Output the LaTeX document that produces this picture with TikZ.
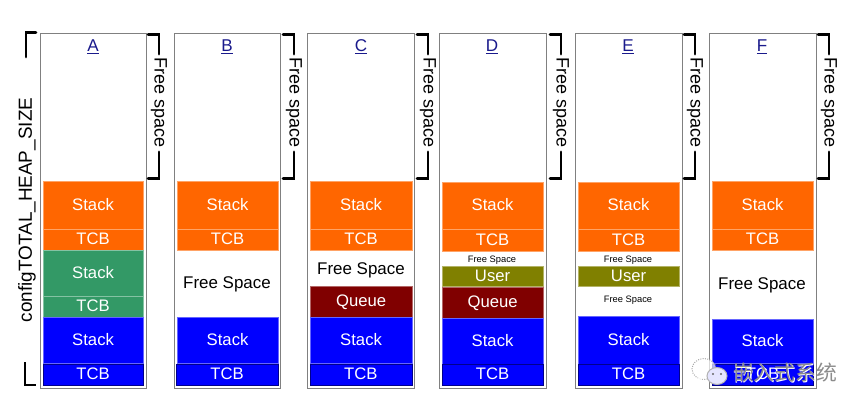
\documentclass[tikz,border=0pt]{standalone}
\usepackage{fontspec}
\setmainfont{Liberation Sans}
\newfontfamily\cjkfont{Noto Sans CJK SC}
\definecolor{taskorange}{HTML}{FF6600}
\definecolor{taskgreen}{HTML}{339966}
\definecolor{taskblue}{HTML}{0000FF}
\definecolor{queuered}{HTML}{800000}
\definecolor{userolive}{HTML}{808000}
\definecolor{linknavy}{HTML}{1A1A8C}
\tikzset{every picture/.style={line width=0.75pt}}
\tikzset{
  heapframe/.style={draw=black!50, line width=1.1pt, fill=white, anchor=north west, inner sep=0pt},
  heapblock/.style={anchor=north west, inner sep=0pt, text=white, text height=9pt, text depth=1.5pt, font=\fontsize{12.5}{14}\selectfont, line width=0.5pt},
  bracket/.style={line width=2.1pt, line cap=round},
  thinbracket/.style={line width=1.2pt},
  freebig/.style={font=\fontsize{12.7}{14}\selectfont, inner sep=0pt},
  freesmall/.style={font=\fontsize{7}{8}\selectfont, inner sep=0pt},
  heaptitle/.style={text=linknavy, font=\fontsize{12.8}{14}\selectfont, inner sep=0pt}
}

\begin{document}
\begin{tikzpicture}[x=0.75pt, y=-0.75pt]
  \useasboundingbox (0,0) rectangle (865,411);

  % Frames, titles and free space brackets
  \foreach \name/\x/\w/\tx/\bx in {
    A/40/106/93/160, B/174/106/227/295, C/307/107/361/429,
    D/439/107/492/562, E/575/107/628/696, F/709/107/762/830}
    {
      \node[heapframe, minimum width=\w*0.75pt, minimum height=355*0.75pt] (frame\name) at (\x,32.5) {};
      \node[heaptitle] (title\name) at (\tx,46.5) {\underline{\name}};
      \node[rotate=-90, inner sep=2.5pt, font=\fontsize{13.5}{15}\selectfont] (free\name) at (\bx-1,103) {Free space};
      \draw[bracket] (free\name.west) -- ++(0,-20) -- ++(-11,0);
      \draw[bracket] (free\name.east) -- ++(0,27) -- ++(-11,0);
    }

  % Blocks
  \foreach \name/\x/\w/\ya/\yb/\colour/\txt in {
    stackAo/43/99.5/181/229/taskorange/Stack, tcbAo/43/99.5/229/250/taskorange/TCB,
    stackAg/43/99.5/250/296/taskgreen/Stack, tcbAg/43/99.5/296/317/taskgreen/TCB,
    stackAb/43/99.5/317/363/taskblue/Stack,
    stackBo/177/100.5/181/229/taskorange/Stack, tcbBo/177/100.5/229/250/taskorange/TCB,
    stackBb/177/100.5/317/363/taskblue/Stack,
    stackCo/310/101.5/181/229/taskorange/Stack, tcbCo/310/101.5/229/250/taskorange/TCB,
    queueC/310/101.5/286/317/queuered/Queue, stackCb/310/101.5/317/363/taskblue/Stack,
    stackDo/442/100.5/182/229/taskorange/Stack, tcbDo/442/100.5/229/251/taskorange/TCB,
    userD/442/100.5/266/286/userolive/User, queueD/442/100.5/287/318/queuered/Queue,
    stackDb/442/100.5/318/364/taskblue/Stack,
    stackEo/578/100.5/182/229/taskorange/Stack, tcbEo/578/100.5/229/251/taskorange/TCB,
    userE/578/100.5/266/286/userolive/User, stackEb/578/100.5/316/364/taskblue/Stack,
    stackFo/712/100.5/181/229/taskorange/Stack, tcbFo/712/100.5/229/250/taskorange/TCB,
    stackFb/712/100.5/319/363/taskblue/Stack}
    {
      \node[heapblock, fill=\colour, draw=\colour!60!white, minimum width=\w*0.75pt, minimum height=(\yb-\ya)*0.75pt] (\name) at (\x,\ya) {\txt};
    }

  % Bottom TCB
  \foreach \name/\x/\w in {A/42.5/100.5, B/176/101.5, C/309.5/102, D/441.5/101.5, E/577.5/101.5, F/711.5/101.5}
    {
      \node[heapblock, fill=taskblue, draw=black!45!taskblue, minimum width=\w*0.75pt, minimum height=21*0.75pt] (tcbb\name) at (\x,364) {TCB};
    }

  % Free space labels
  \node[freebig] (spaceB) at (227,284.5) {Free Space};
  \node[freebig] (spaceC) at (361,270) {Free Space};
  \node[freesmall] (spaceD) at (492,260) {Free Space};
  \node[freesmall] (spaceEa) at (628,260) {Free Space};
  \node[freesmall] (spaceEb) at (628,300) {Free Space};
  \node[freebig] (spaceF) at (762,285.5) {Free Space};

  % Total heap size
  \node[rotate=90, inner sep=0pt, font=\fontsize{14.2}{16}\selectfont] (heapsize) at (27,210) {configTOTAL\_HEAP\_SIZE};
  \coordinate (heaptop) at (26,57);
  \coordinate (heapbot) at (25,362);
  \draw[bracket] (heaptop) -- (heaptop |- frameA.north) -- ++(10,0);
  \draw[thinbracket] (heapbot) -- (25,385) -- (36,385);

  % Watermark
  \draw[black!35, densely dotted, fill=white, fill opacity=0.7] (704,369) ellipse (12 and 10.5);
  \fill[white, fill opacity=0.8] (697,381) -- (699,375) -- (704,378) -- cycle;
  \fill[blue!10!white, draw=black!30] (717,376) ellipse (10 and 8.5);
  \fill[black!60] (713,374) circle (1.1) (721,374) circle (1.1);
  \node[text=white, inner sep=0pt, font=\cjkfont\fontsize{15.6}{18}\selectfont] (markback) at (785.8,373.8) {嵌入式系统};
  \node[text=black!45, inner sep=0pt, font=\cjkfont\fontsize{15.6}{18}\selectfont] (mark) at (785,373) {嵌入式系统};
\end{tikzpicture}
\end{document}
